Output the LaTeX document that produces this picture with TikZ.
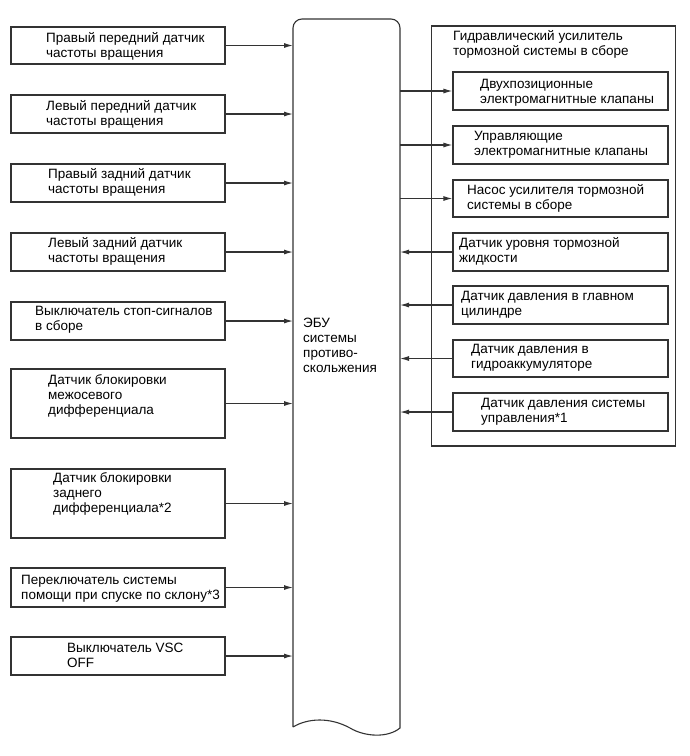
\documentclass[tikz,border=0pt]{standalone}
\usepackage{fontspec}
\setmainfont{Liberation Sans}
\usetikzlibrary{arrows.meta}
\definecolor{ink}{gray}{0.2}
\tikzset{
  box/.style={draw=ink, line width=1.1pt, rectangle, inner sep=0pt, minimum width=#1},
  lbox/.style={box=214pt},
  rbox/.style={box=215pt},
  txt/.style={anchor=north west, inner sep=0pt, align=left, text=black,
    font=\fontsize{13.5}{15}\selectfont},
  arr/.style={draw=ink, line width=1.1pt, -{Latex[length=9pt,width=5pt]}},
}
\begin{document}
\begin{tikzpicture}[x=1pt,y=1pt]
\useasboundingbox (0,0) rectangle (690,-756);
% ECU
\draw[draw=ink, line width=1.1pt]
  (293,-727) -- (293,-28) arc[start angle=180,end angle=90,radius=9pt]
  -- (391,-19) arc[start angle=90,end angle=0,radius=9pt]
  -- (400,-728)
  .. controls (388,-738) and (365,-737) .. (350,-728)
  .. controls (330,-717) and (308,-718) .. (293,-727);
\coordinate (ecuL) at (293,0);
\coordinate (ecuR) at (400,0);
\node[txt] (ecu) at (303,-316.5) {\strut ЭБУ\\системы\\противо-\\скольжения};
% left boxes
\node[lbox, minimum height=37pt] (l1) at (118,-45.5) {};
\node[lbox, minimum height=38pt] (l2) at (118,-114) {};
\node[lbox, minimum height=38pt] (l3) at (118,-183) {};
\node[lbox, minimum height=38pt] (l4) at (118,-252) {};
\node[lbox, minimum height=38pt] (l5) at (118,-321) {};
\node[lbox, minimum height=69pt] (l6) at (118,-403.5) {};
\node[lbox, minimum height=69pt] (l7) at (118,-503.5) {};
\node[lbox, minimum height=39pt] (l8) at (118,-587.5) {};
\node[lbox, minimum height=38pt] (l9) at (118,-656) {};
\node[txt] (t1) at (46,-31.5) {\strut Правый передний датчик\\частоты вращения};
\node[txt] (t2) at (46,-99.5) {\strut Левый передний датчик\\частоты вращения};
\node[txt] (t3) at (48,-167.5) {\strut Правый задний датчик\\частоты вращения};
\node[txt] (t4) at (48,-236.5) {\strut Левый задний датчик\\частоты вращения};
\node[txt] (t5) at (35,-304.5) {\strut Выключатель стоп-сигналов\\в сборе};
\node[txt] (t6) at (48,-373.5) {\strut Датчик блокировки\\межосевого\\дифференциала};
\node[txt] (t7) at (53,-471.5) {\strut Датчик блокировки\\заднего\\дифференциала*2};
\node[txt] (t8) at (21,-573.5) {\strut Переключатель системы\\помощи при спуске по склону*3};
\node[txt] (t9) at (67,-641.5) {\strut Выключатель VSC\\OFF};
\foreach \n in {l1,l2,l3,l4,l5,l6,l7,l8,l9}
  \draw[arr] (\n.east) -- (\n.east -| ecuL);
% right assembly
\node[box=244pt, minimum height=420pt] (hyd) at (553.5,-236) {};
\node[txt] (th) at (453,-29.5) {\strut Гидравлический усилитель\\тормозной системы в сборе};
\node[rbox, minimum height=38pt] (r1) at (560.5,-91) {};
\node[rbox, minimum height=38pt] (r2) at (560.5,-145) {};
\node[rbox, minimum height=37pt] (r3) at (560.5,-198.5) {};
\node[rbox, minimum height=38pt] (r4) at (560.5,-252) {};
\node[rbox, minimum height=38pt] (r5) at (560.5,-305) {};
\node[rbox, minimum height=37pt] (r6) at (560.5,-358.5) {};
\node[rbox, minimum height=38pt] (r7) at (560.5,-412) {};
\node[txt] (s1) at (480,-77.5) {\strut Двухпозиционные\\электромагнитные клапаны};
\node[txt] (s2) at (474,-129.5) {\strut Управляющие\\электромагнитные клапаны};
\node[txt] (s3) at (467,-183.5) {\strut Насос усилителя тормозной\\системы в сборе};
\node[txt] (s4) at (459,-236.5) {\strut Датчик уровня тормозной\\жидкости};
\node[txt] (s5) at (461,-289.5) {\strut Датчик давления в главном\\цилиндре};
\node[txt] (s6) at (471,-342.5) {\strut Датчик давления в\\гидроаккумуляторе};
\node[txt] (s7) at (481,-396.5) {\strut Датчик давления системы\\управления*1};
\foreach \n in {r1,r2,r3}
  \draw[arr] (\n.west -| ecuR) -- (\n.west);
\foreach \n in {r4,r5,r6,r7}
  \draw[arr] (\n.west) -- (\n.west -| ecuR);
\end{tikzpicture}
\end{document}
